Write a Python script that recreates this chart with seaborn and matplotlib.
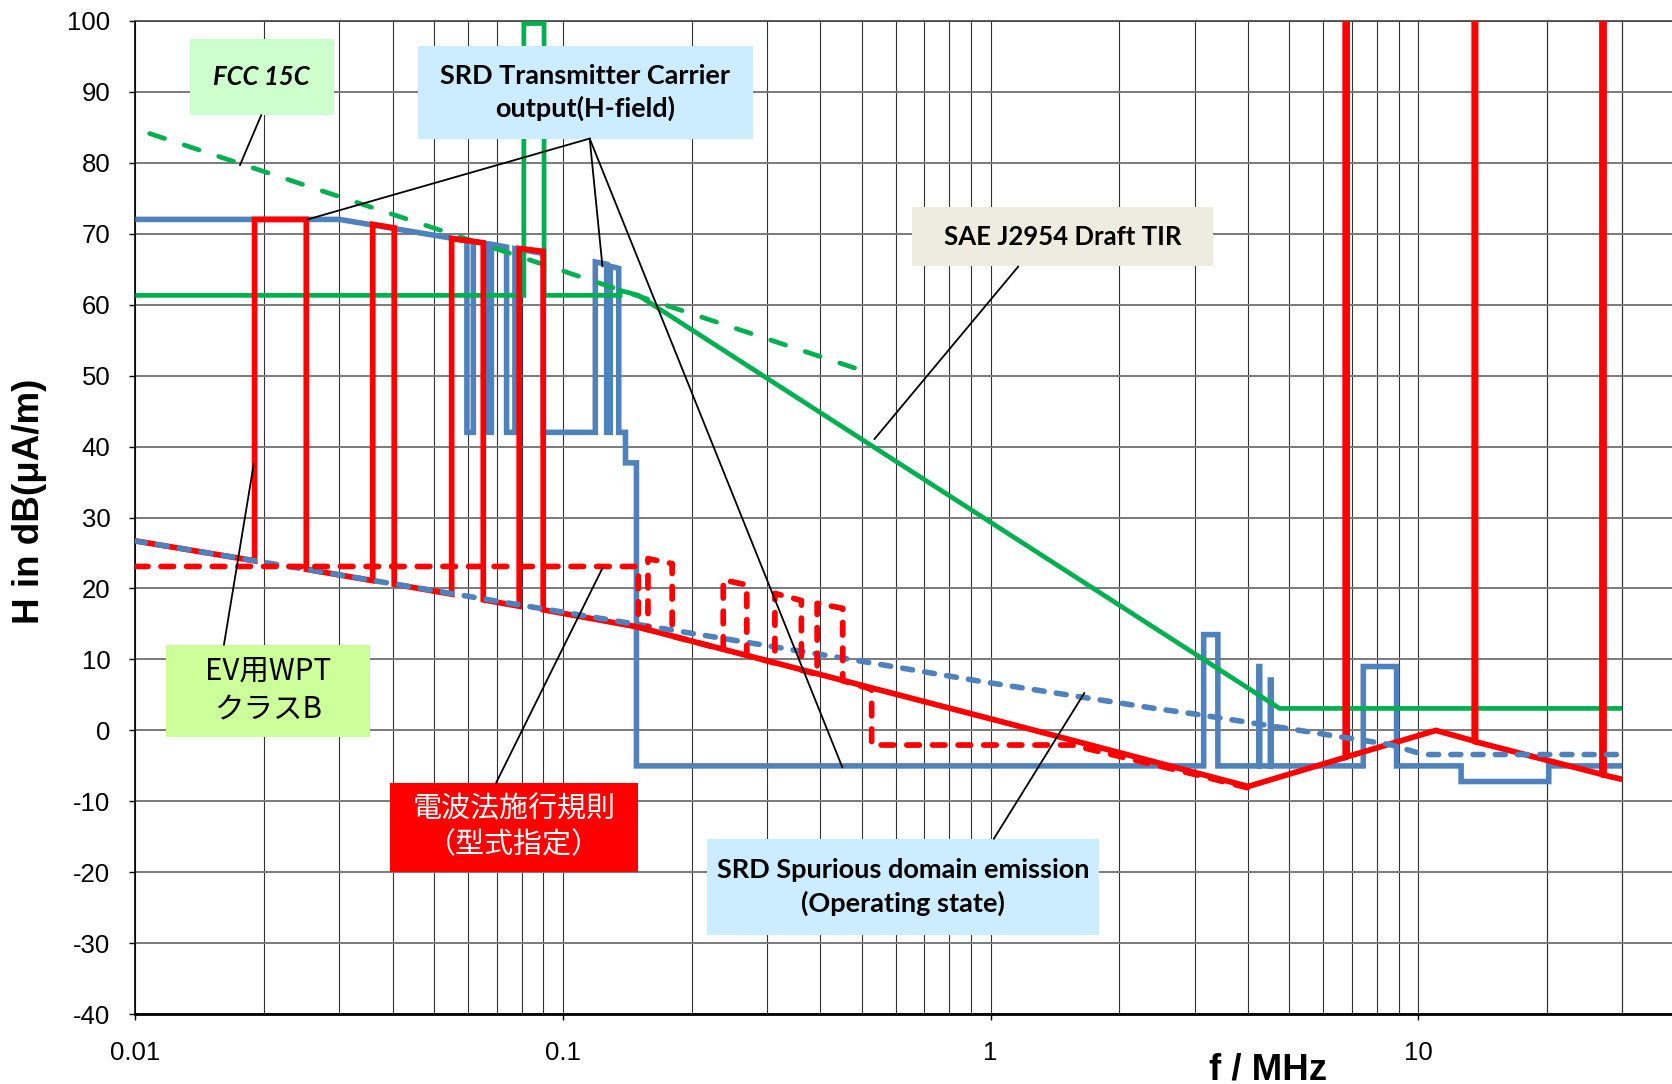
import matplotlib
matplotlib.use("Agg")
import matplotlib.pyplot as plt
import seaborn as sns
import numpy as np
import pandas as pd
from matplotlib import font_manager
from matplotlib.patches import Rectangle
from matplotlib.lines import Line2D
from matplotlib.ticker import FixedLocator, NullFormatter

# ---------------- data (frequency in MHz, level in dB(uA/m)) ----------------
srd_tx_freq = [0.01, 0.03, 0.0596, 0.0596, 0.0617, 0.0617, 0.066, 0.066, 0.068, 0.068,
               0.0738, 0.0738, 0.0772, 0.0772, 0.09, 0.09, 0.119, 0.119, 0.1265, 0.1265,
               0.129, 0.129, 0.135, 0.135, 0.14, 0.14, 0.1485, 0.1485, 3.15, 3.15,
               3.4, 3.4, 4.24, 4.24, 4.26, 4.26, 4.51, 4.51, 4.53, 4.53,
               7.44, 7.44, 8.9, 8.9, 12.6, 12.6, 20.2, 20.2, 30.0]
srd_tx_level = [72.0, 72.0, 69.0, 42.0, 42.0, 68.9, 68.6, 42.0, 42.0, 68.5,
                68.1, 42.0, 42.0, 67.9, 67.2, 42.0, 42.0, 66.0, 65.7, 42.0,
                42.0, 65.4, 65.1, 42.0, 42.0, 37.7, 37.7, -5.0, -5.0, 13.5,
                13.5, -5.0, -5.0, 9.0, 9.0, -5.0, -5.0, 7.1, 7.1, -5.0,
                -5.0, 9.0, 9.0, -5.0, -5.0, -7.2, -7.2, -5.0, -5.0]

srd_spur_freq = [0.01, 0.122, 0.43, 0.95, 2.36, 3.09, 8.6, 10.3, 30.0]
srd_spur_level = [26.7, 15.8, 10.4, 6.9, 3.2, 2.2, -2.0, -3.4, -3.4]

sae_freq = [0.01, 0.081, 0.081, 0.0903, 0.0903, 0.136, 0.136, 0.150, 4.74, 30.0]
sae_level = [61.3, 61.3, 99.6, 99.6, 61.3, 61.3, 62.0, 61.3, 3.1, 3.1]

fcc_freq = [0.0108, 0.49]
fcc_level = [84.1, 50.9]

wpt_freq = [0.01, 0.019, 0.019, 0.0251, 0.0251, 0.0359, 0.0359, 0.0403, 0.0403,
            0.0549, 0.0549, 0.0651, 0.0651, 0.079, 0.079, 0.0899, 0.0899, 0.1487,
            1.05, 4.0, 6.75, 6.75, 6.82, 6.82, 11.0, 13.52, 13.52, 13.62, 13.62,
            26.9, 26.9, 27.2, 27.2, 30.0]
wpt_level = [26.7, 23.9, 72.0, 72.0, 22.7, 21.1, 71.3, 70.8, 20.6,
             19.2, 69.3, 68.7, 18.4, 17.5, 67.9, 67.5, 17.0, 14.6,
             1.3, -7.9, -3.8, 150.0, 150.0, -3.7, 0.0, -1.5, 150.0, 150.0, -1.6,
             -6.2, 150.0, 150.0, -6.3, -6.9]

denpa_freq = [0.01, 0.150, 0.150, 0.158, 0.158, 0.180, 0.180, 0.237, 0.237, 0.269, 0.269,
              0.313, 0.313, 0.361, 0.361, 0.393, 0.393, 0.451, 0.451, 0.527, 0.527,
              1.55, 3.1, 4.0]
denpa_level = [23.1, 23.1, 14.6, 14.2, 24.2, 23.5, 13.3, 11.4, 21.2, 20.5, 10.6,
               9.5, 19.3, 18.3, 8.5, 7.9, 17.9, 17.2, 7.0, 5.8, -2.06,
               -2.06, -6.4, -8.1]

x_ticks = [0.01, 0.1, 1, 10]
x_tick_labels = ["0.01", "0.1", "1", "10"]
y_ticks = list(range(-40, 101, 10))

# ---------------- style ----------------
sns.set_theme(style="white")
plt.rcParams["font.family"] = ["Liberation Sans", "DejaVu Sans"]
plt.rcParams["axes.unicode_minus"] = False

names = {f.name for f in font_manager.fontManager.ttflist}
box_font = ["Liberation Sans Narrow", "DejaVu Sans"] if "Liberation Sans Narrow" in names else ["Lato", "DejaVu Sans"]
cjk_font = ["Noto Sans CJK JP", "DejaVu Sans"]

BLUE = "#4F81BD"
RED = "#FF0000"
GREEN = "#00B050"

W, H = 1672, 1084
fig = plt.figure(figsize=(W / 100, H / 100), dpi=100)
fig.patch.set_facecolor("white")

ax_left, ax_right, ax_top, ax_bottom = 135.4, 1672.0, 20.7, 1014.3
ax = fig.add_axes([ax_left / W, (H - ax_bottom) / H, (ax_right - ax_left) / W, (ax_bottom - ax_top) / H])
ax.set_facecolor("white")
ax.set_xscale("log")
ax.set_xlim(0.01, 10 ** (-2 + (ax_right - ax_left) / 427.6))
ax.set_ylim(-40, 100)

# grid
ax.set_axisbelow(True)
ax.set_yticks(y_ticks)
ax.set_xticks(x_ticks)
ax.set_xticklabels(x_tick_labels)
minor = [k * 10.0 ** d for d in range(-2, 2) for k in range(2, 10)] + [20.0, 30.0]
ax.xaxis.set_minor_locator(FixedLocator(minor))
ax.xaxis.set_minor_formatter(NullFormatter())
ax.yaxis.grid(True, color="#7a7a7a", lw=1.4, zorder=0)
ax.xaxis.grid(True, which="both", color="#333333", lw=0.8, zorder=0)

ax.tick_params(axis="y", which="major", direction="out", length=4, width=1, color="black",
               labelsize=18.5, pad=14, left=True)
ax.tick_params(axis="x", which="major", direction="out", length=4.3, width=1, color="black",
               labelsize=18.5, pad=15, bottom=True)
ax.tick_params(axis="x", which="minor", length=0)
for lab in ax.get_xticklabels() + ax.get_yticklabels():
    lab.set_color("black")

ax.spines["right"].set_visible(False)
ax.spines["top"].set_color("#404040")
ax.spines["top"].set_linewidth(1.2)
ax.spines["left"].set_color("black")
ax.spines["left"].set_linewidth(1.2)
ax.spines["bottom"].set_color("black")
ax.spines["bottom"].set_linewidth(2.0)

# ---------------- series ----------------
series = [
    # x, y, color, lw, linestyle, zorder
    (srd_tx_freq, srd_tx_level, BLUE, 4.0, "-", 3),
    (sae_freq, sae_level, GREEN, 3.4, "-", 4),
    (fcc_freq, fcc_level, GREEN, 3.4, (0, (3.3, 4.4)), 5),
    (wpt_freq, wpt_level, RED, 4.1, "-", 6),
    (srd_spur_freq, srd_spur_level, BLUE, 4.0, (0, (1.8, 2.2)), 7),
    (denpa_freq, denpa_level, RED, 4.1, (0, (2.2, 2.3)), 8),
]
for xs, ys, col, lw, ls, z in series:
    n_before = len(ax.lines)
    sns.lineplot(x=xs, y=ys, sort=False, estimator=None, ax=ax, color=col, zorder=z)
    ln = ax.lines[n_before]
    ln.set_linewidth(lw)
    ln.set_linestyle(ls)
    ln.set_dash_capstyle("round")
    ln.set_solid_capstyle("butt")
    ln.set_solid_joinstyle("miter")
    ln.set_zorder(z)
ax.set_xlabel("")
ax.set_ylabel("")
if ax.get_legend() is not None:
    ax.get_legend().remove()

# ---------------- annotations (positions in reference pixels, 1568x1017 space) ----------------
SW, SH = 1568.0, 1017.0


def fx(x):
    return x / SW


def fy(y):
    return 1 - y / SH


renderer = fig.canvas.get_renderer()


def fit_text(x, y, s, target, family, dim="w", start=20, **kw):
    t = fig.text(x, y, s, fontsize=start, family=family, **kw)
    ext = t.get_window_extent(renderer)
    cur = ext.width if dim == "w" else ext.height
    t.set_fontsize(start * target / cur)
    return t


boxes = [
    # x0, y0, x1, y1, face, text, target width (full px), font, kwargs
    (178, 37, 313, 108, "#CCFFCC", "FCC 15C", 97, box_font, dict(weight="bold", style="italic", color="black", linespacing=1.15)),
    (392, 43, 706, 130, "#CCECFF", "SRD Transmitter Carrier\noutput(H-field)", 290, box_font, dict(weight="bold", color="black", linespacing=1.38)),
    (855, 194, 1138, 250, "#EEECE1", "SAE J2954 Draft TIR", 237, box_font, dict(weight="bold", color="black", linespacing=1.15)),
    (156, 605, 347, 691, "#CCFF99", "EV用WPT\nクラスB", 126, cjk_font, dict(color="black", linespacing=1.35)),
    (366, 735, 598, 818, "#FF0000", "電波法施行規則\n（型式指定）", 203, cjk_font, dict(color="white", linespacing=1.25)),
    (663, 787, 1031, 877, "#CCECFF", "SRD Spurious domain emission\n(Operating state)", 374, box_font, dict(weight="bold", color="black", linespacing=1.42)),
]
for x0, y0, x1, y1, face, txt, tw, fam, kw in boxes:
    fig.add_artist(Rectangle((fx(x0), fy(y1)), fx(x1) - fx(x0), fy(y0) - fy(y1),
                             transform=fig.transFigure, facecolor=face, edgecolor="none", zorder=10))
    fit_text(fx((x0 + x1) / 2), fy((y0 + y1) / 2), txt, tw, fam, ha="center", va="center",
             multialignment="center", zorder=12, **kw)

leaders = [
    ((245, 108), (225, 155)),
    ((553, 130), (288, 206)),
    ((553, 130), (565, 250)),
    ((553, 130), (790, 720)),
    ((955, 250), (820, 412)),
    ((210, 605), (238, 435)),
    ((465, 735), (565, 533)),
    ((932, 787), (1017, 650)),
]
for (xa, ya), (xb, yb) in leaders:
    fig.add_artist(Line2D([fx(xa), fx(xb)], [fy(ya), fy(yb)], transform=fig.transFigure,
                          color="black", lw=1.3, zorder=11))

# axis titles
fit_text(30 / W, 1 - 501 / H, "H in dB(μA/m)", 245, ["Liberation Sans", "DejaVu Sans"], dim="h",
         start=26, rotation=90, ha="center", va="center", weight="bold", color="black")
fit_text(1268 / W, 1 - 1079 / H, "f / MHz", 118, ["Liberation Sans", "DejaVu Sans"],
         start=26, ha="center", va="baseline", weight="bold", color="black")

fig.savefig("out.png", dpi=100, facecolor="white")
